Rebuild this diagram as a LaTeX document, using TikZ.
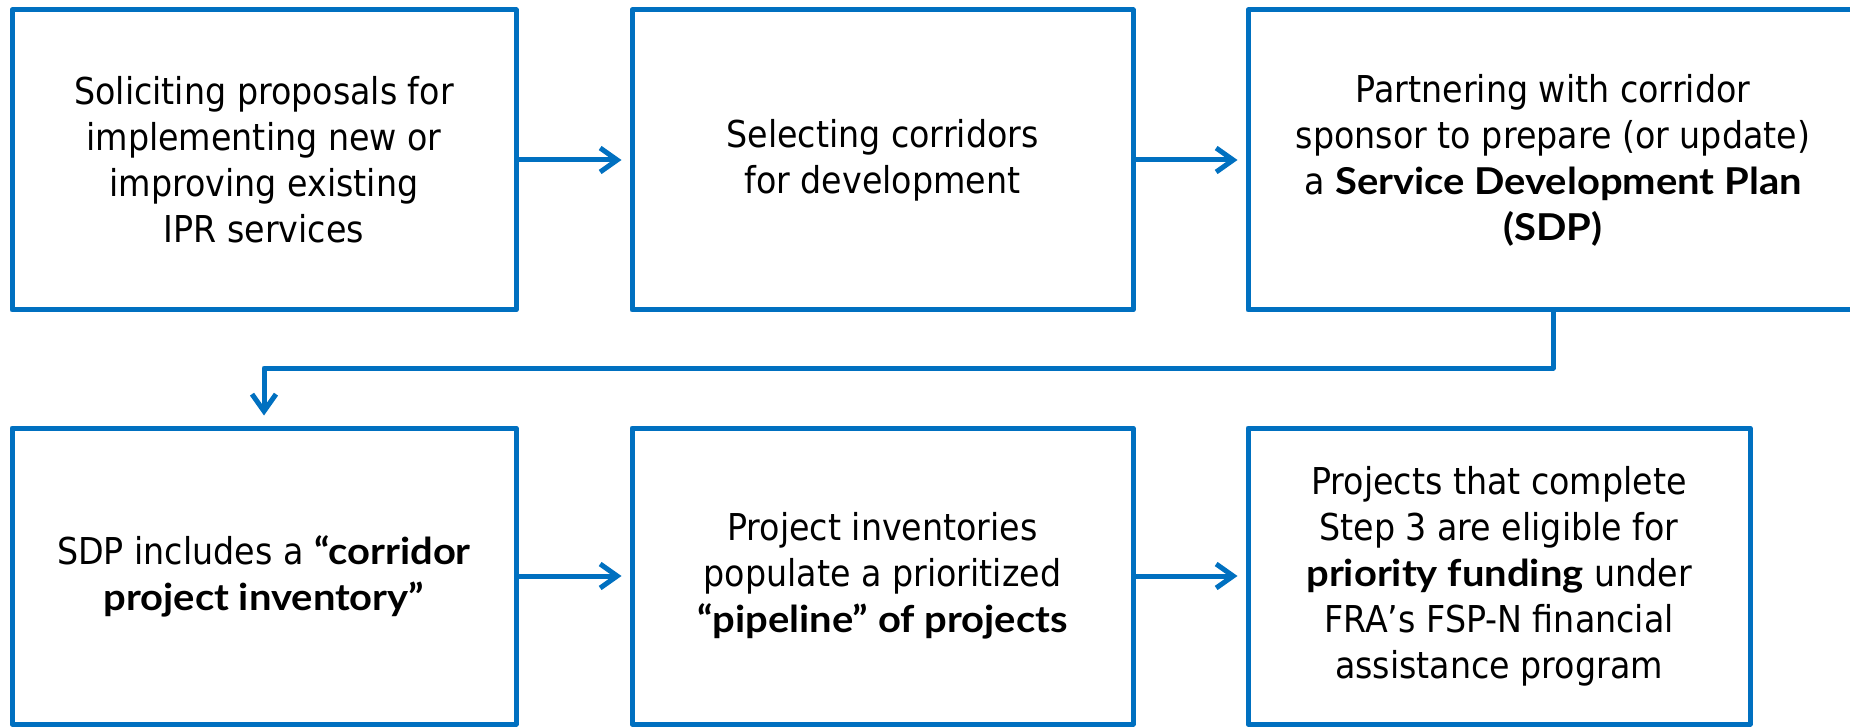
\documentclass[tikz,border=0pt]{standalone}
\usepackage{fontspec}
\setmainfont{DejaVu Sans}[FakeStretch=0.9]
\newfontfamily\latofam{Lato}[FakeStretch=1.08]
\newcommand\bsp[1]{{\latofam\bfseries #1}}
\usetikzlibrary{arrows.meta}
\definecolor{fblue}{HTML}{0070C0}
\tikzset{
  stepbox/.style={draw=fblue, line width=5pt, line join=round, rectangle,
    align=center, inner sep=0pt, font=\fontsize{37}{46}\selectfont, text=black},
  flow/.style={draw=fblue, line width=5pt, line join=round,
    -{Straight Barb[length=17pt,width=24pt]}, shorten >=8pt}
}
\begin{document}
\begin{tikzpicture}[x=1pt,y=-1pt]
\useasboundingbox (0,0) rectangle (1850,727);
\node[stepbox, minimum width=504pt, minimum height=300pt] (b1) at (264,160)
  {Soliciting proposals for\\implementing new or\\improving existing\\IPR services};
\node[stepbox, minimum width=501pt, minimum height=300pt] (b2) at (882.5,160)
  {Selecting corridors\\for development};
\node[stepbox, minimum width=610pt, minimum height=300pt] (b3) at (1553,160)
  {Partnering with corridor\\sponsor to prepare (or update)\\a \bsp{Service Development Plan}\\\bsp{(SDP)}};
\node[stepbox, minimum width=504pt, minimum height=296pt] (b4) at (264,576)
  {SDP includes a \bsp{“corridor}\\\bsp{project inventory”}};
\node[stepbox, minimum width=501pt, minimum height=296pt] (b5) at (882.5,576)
  {Project inventories\\populate a prioritized\\\bsp{“pipeline” of projects}};
\node[stepbox, minimum width=502pt, minimum height=296pt] (b6) at (1499,576)
  {Projects that complete\\Step 3 are eligible for\\\bsp{priority funding} under\\FRA’s FSP-N financial\\assistance program};
\coordinate (elb) at (0,368);
\draw[flow] (b1.east) -- (b2.west);
\draw[flow] (b2.east) -- (b3.west);
\draw[flow, shorten >=10pt] (b3.south) -- (b3.south |- elb) -| (b4.north);
\draw[flow] (b4.east) -- (b5.west);
\draw[flow] (b5.east) -- (b6.west);
\end{tikzpicture}
\end{document}
